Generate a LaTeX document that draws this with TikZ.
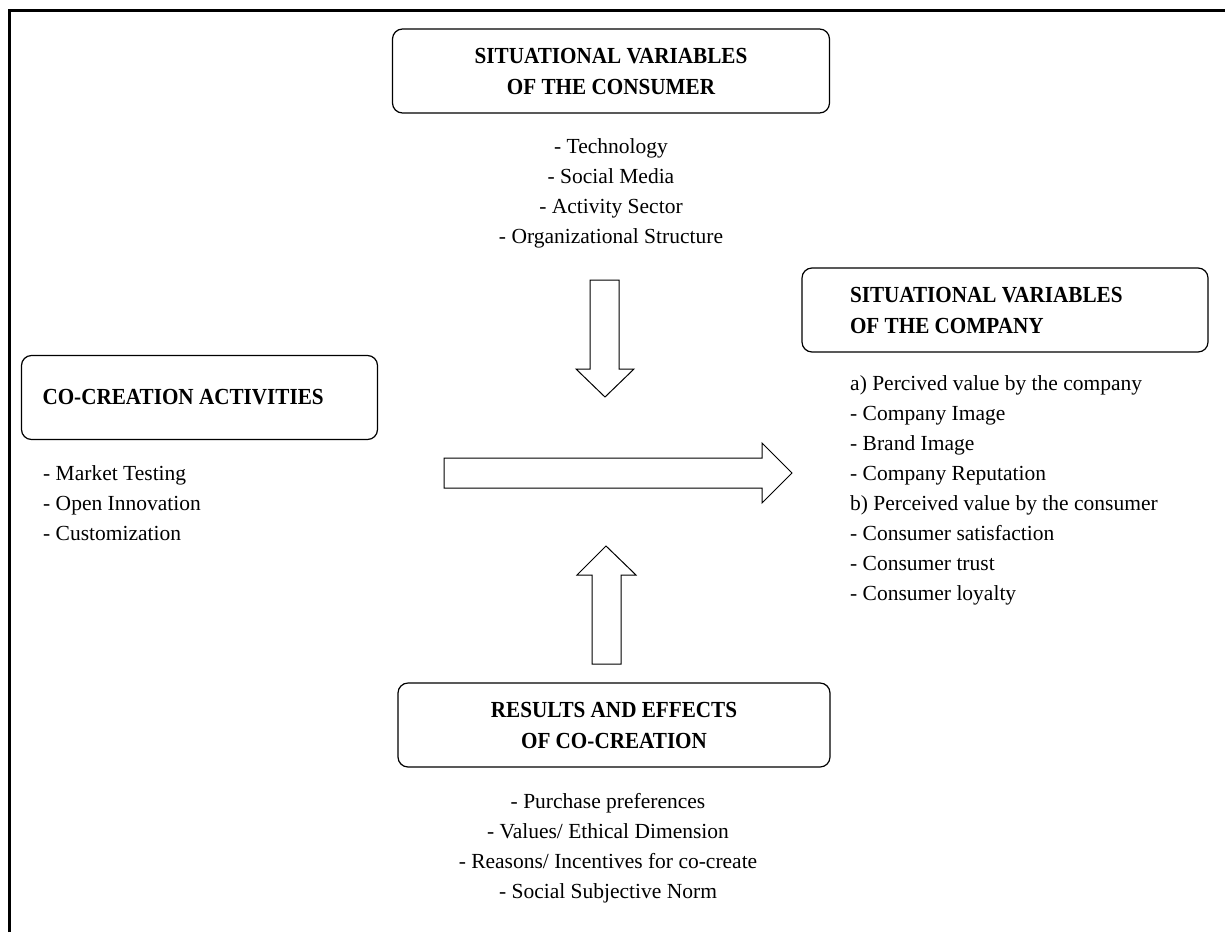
\documentclass[tikz,border=0pt]{standalone}
\usepackage{fontspec}
\setmainfont{Liberation Serif}
\newfontfamily\headfont[FakeStretch=0.92]{Liberation Serif}
\begin{document}
\begin{tikzpicture}[x=1pt,y=-1pt,
 box/.style={draw,line width=1.2pt,rounded corners=10pt,minimum height=84pt,inner ysep=0pt},
 head/.style={font=\headfont\bfseries\fontsize{23}{31}\selectfont},
 items/.style={inner sep=0pt,font=\fontsize{21.5}{30}\selectfont},
 blk/.style={draw,line width=1pt,line join=miter,fill=white}]
\useasboundingbox (0,0) rectangle (1225,932);
\draw[line width=3pt](9.5,932)--(9.5,10.7)--(1225,10.7);
\node[box,head,minimum width=437pt,align=center] (cons) at (611,71) {SITUATIONAL VARIABLES\\OF THE CONSUMER};
\node[items,align=center,anchor=north] (consl) at (611,138) {- Technology\\- Social Media\\- Activity Sector\\- Organizational Structure};
\node[box,head,text width=310pt,inner xsep=48pt,align=flush left] (comp) at (1005,310) {SITUATIONAL VARIABLES\\OF THE COMPANY};
\node[items,align=left,anchor=north west] (compl) at (850,375) {a) Percived value by the company\\- Company Image\\- Brand Image\\- Company Reputation\\b) Perceived value by the consumer\\- Consumer satisfaction\\- Consumer trust\\- Consumer loyalty};
\node[box,head,text width=314pt,inner xsep=21pt,align=flush left] (act) at (199.5,397.5) {CO-CREATION ACTIVITIES};
\node[items,align=left,anchor=north west] (actl) at (43,465) {- Market Testing\\- Open Innovation\\- Customization};
\node[box,head,minimum width=432pt,align=center] (res) at (614,725) {RESULTS AND EFFECTS\\OF CO-CREATION};
\node[items,align=center,anchor=north] (resl) at (608,793) {- Purchase preferences\\- Values/ Ethical Dimension\\- Reasons/ Incentives for co-create\\- Social Subjective Norm};
\draw[blk](590,280)--(619,280)--(619,369)--(634,369)--(605,397)--(576,369)--(590,369)--cycle;
\draw[blk](444,458)--(762,458)--(762,443)--(792,473)--(762,503)--(762,488)--(444,488)--cycle;
\draw[blk](592,664)--(592,575)--(577,575)--(606,546)--(636,575)--(621,575)--(621,664)--cycle;
\end{tikzpicture}
\end{document}
